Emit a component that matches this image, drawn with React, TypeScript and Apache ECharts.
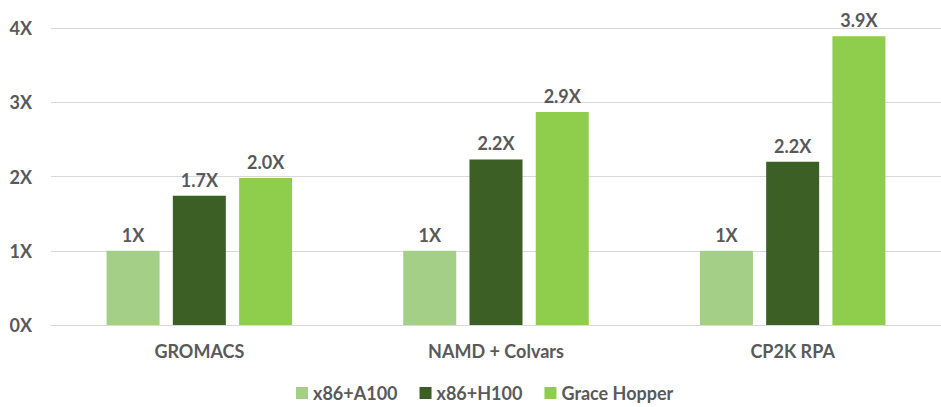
import React, { useEffect, useRef } from "react";
import * as echarts from "echarts";

const categories = ["GROMACS", "NAMD + Colvars", "CP2K RPA"];
const seriesNames = ["x86+A100", "x86+H100", "Grace Hopper"];
const a100Values = [1, 1, 1];
const h100Values = [1.74, 2.23, 2.2];
const ghValues = [1.98, 2.87, 3.89];
const a100Labels = ["1X", "1X", "1X"];
const h100Labels = ["1.7X", "2.2X", "2.2X"];
const ghLabels = ["2.0X", "2.9X", "3.9X"];
const yTicks = [0, 1, 2, 3, 4];
const colors = ["#a3cf86", "#3b5f24", "#8fcd4d"];

const FONT = "Lato, 'Open Sans', sans-serif";
const TEXT = "#595959";

export default function App() {
  const ref = useRef<HTMLDivElement>(null);
  useEffect(() => {
    if (!ref.current) return;
    const chart = echarts.init(ref.current, undefined, { renderer: "svg" });
    const mk = (name: string, values: number[], labels: string[], color: string) => ({
      name,
      type: "bar",
      data: values,
      barWidth: 53,
      barGap: "25%",
      itemStyle: { color },
      label: {
        show: true,
        position: "top",
        distance: 7,
        formatter: (p: any) => labels[p.dataIndex],
        color: TEXT,
        fontFamily: FONT,
        fontWeight: "bold",
        fontSize: 18,
      },
    });
    chart.setOption({
      animation: false,
      grid: { left: 51, top: 28, width: 898.5, height: 297, containLabel: false },
      legend: {
        top: 379,
        left: 291,
        itemWidth: 12,
        itemHeight: 12,
        itemGap: 22,
        icon: "rect",
        textStyle: { color: TEXT, fontFamily: FONT, fontWeight: "bold", fontSize: 18, padding: [0, 0, 0, 0] },
        data: seriesNames,
      },
      xAxis: {
        type: "category",
        data: categories,
        axisLine: { show: true, lineStyle: { color: "#d9d9d9" } },
        axisTick: { show: false },
        axisLabel: {
          color: TEXT,
          fontFamily: FONT,
          fontWeight: "bold",
          fontSize: 18,
          margin: 17,
        },
      },
      yAxis: {
        type: "value",
        min: yTicks[0],
        max: yTicks[yTicks.length - 1],
        interval: 1,
        axisLabel: {
          formatter: (v: number) => `${v}X`,
          color: TEXT,
          fontFamily: FONT,
          fontWeight: "bold",
          fontSize: 18,
          margin: 19,
        },
        splitLine: { lineStyle: { color: "#d9d9d9", width: 1 } },
        axisLine: { show: false },
        axisTick: { show: false },
      },
      series: [
        mk(seriesNames[0], a100Values, a100Labels, colors[0]),
        mk(seriesNames[1], h100Values, h100Labels, colors[1]),
        mk(seriesNames[2], ghValues, ghLabels, colors[2]),
      ],
    });
    return () => chart.dispose();
  }, []);
  return (
    <div
      ref={ref}
      style={{ position: "fixed", left: 0, top: 0, width: 941, height: 407, background: "#fff" }}
    />
  );
}
